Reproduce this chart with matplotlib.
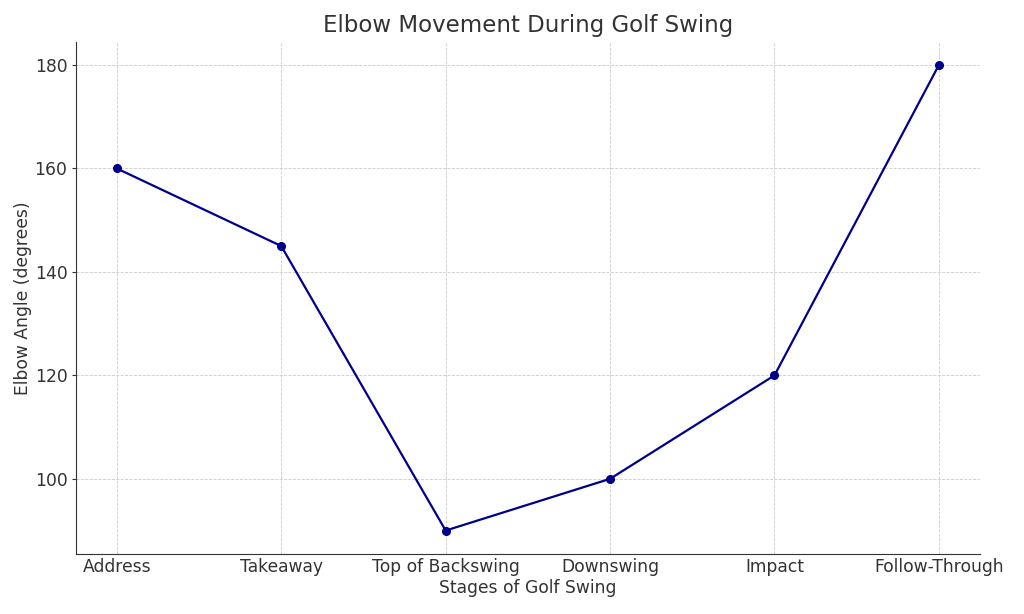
import matplotlib.pyplot as plt

# Data
stages = ["Address", "Takeaway", "Top of Backswing", "Downswing", "Impact", "Follow-Through"]
elbow_angle = [160, 145, 90, 100, 120, 180]

plt.rcParams['text.color'] = '#333333'
plt.rcParams['axes.labelcolor'] = '#333333'
plt.rcParams['xtick.color'] = '#333333'
plt.rcParams['ytick.color'] = '#333333'
plt.rcParams['axes.edgecolor'] = '#333333'

fig = plt.figure(figsize=(10.24, 6.14), dpi=100)
ax = fig.add_axes([0.074, 0.098, 0.883, 0.834])

ax.plot(stages, elbow_angle, marker='o', color='darkblue', markersize=5.5, linewidth=1.6)

ax.set_title("Elbow Movement During Golf Swing", fontsize=16.5, pad=7)
ax.set_xlabel("Stages of Golf Swing", fontsize=12.3, labelpad=2.5)
ax.set_ylabel("Elbow Angle (degrees)", fontsize=12.3, labelpad=1.5)
ax.tick_params(labelsize=12.3)
ax.tick_params(axis='x', length=0, pad=3)
ax.tick_params(axis='y', length=3, pad=3)

ax.grid(True, linestyle='--', linewidth=0.6, color='#cccccc')
ax.spines['top'].set_visible(False)
ax.spines['right'].set_visible(False)

plt.savefig("out.png", dpi=100)
